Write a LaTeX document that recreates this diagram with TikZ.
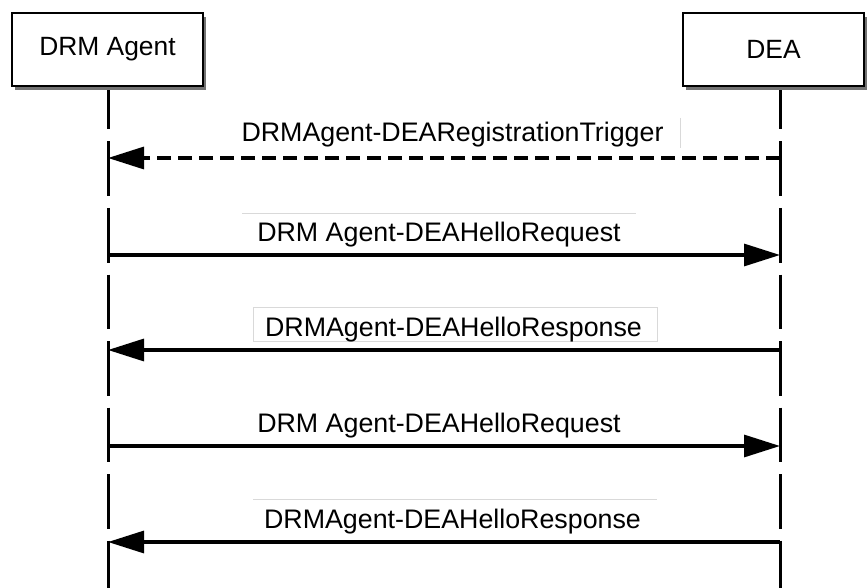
\documentclass[tikz,border=0pt]{standalone}
\usepackage{fontspec}
\setmainfont{Liberation Sans}
\usetikzlibrary{arrows.meta,shadows}

\begin{document}
\begin{tikzpicture}[x=1pt,y=-1pt,
  actor/.style={draw=black, line width=2pt, fill=white, inner sep=0pt,
    font=\fontsize{26.4}{30}\selectfont,
    drop shadow={shadow xshift=3pt, shadow yshift=-4pt, fill=black!55, opacity=1}},
  lifeline/.style={line width=3pt, dash pattern=on 54.5pt off 12pt},
  msg/.style={line width=3.2pt, -{Triangle[length=36pt,width=22pt]}},
  async/.style={msg, dash pattern=on 14pt off 7pt},
  lbl/.style={font=\fontsize{26.8}{30}\selectfont, inner sep=0pt, anchor=base},
  lblframe/.style={draw=black!15, line width=0.8pt}
]
\useasboundingbox (0,0) rectangle (867,588);

% lifelines, drawn first so the boxes cover their tops
\coordinate (agentTop) at (108,60);
\coordinate (agentEnd) at (108,588);
\coordinate (deaTop) at (780,60);
\coordinate (deaEnd) at (780,588);
\draw[lifeline, dash phase=-15pt] (agentTop) -- (agentEnd);
\draw[lifeline, dash phase=-15pt] (deaTop) -- (deaEnd);

% participants
\node[actor, minimum width=191pt, minimum height=73pt] (agent) at (107.5,49.5) {DRM Agent};
\node[actor, minimum width=181pt, minimum height=73pt] (dea) at (773.5,49.5) {DEA};

% message end points on the lifelines
\foreach \i/\y in {1/158,2/255,3/350,4/446,5/542}{
  \coordinate (a\i) at (108,\y);
  \coordinate (d\i) at (780,\y);
}

% faint label frames
\draw[lblframe] (680,118) -- (680,148);
\draw[lblframe] (242,213) -- (636,213);
\draw[lblframe] (253,307) rectangle (657,341);
\draw[lblframe] (253,499) -- (657,499);

% messages
\draw[async] (d1) -- (a1);
\node[lbl] (l1) at (452.5,142) {DRMAgent-DEARegistrationTrigger};

\draw[msg] (a2) -- (d2);
\node[lbl] (l2) at (439,241) {DRM Agent-DEAHelloRequest};

\draw[msg] (d3) -- (a3);
\node[lbl] (l3) at (453.5,336) {DRMAgent-DEAHelloResponse};

\draw[msg] (a4) -- (d4);
\node[lbl] (l4) at (439,432) {DRM Agent-DEAHelloRequest};

\draw[msg] (d5) -- (a5);
\node[lbl] (l5) at (452.5,528) {DRMAgent-DEAHelloResponse};
\end{tikzpicture}
\end{document}
